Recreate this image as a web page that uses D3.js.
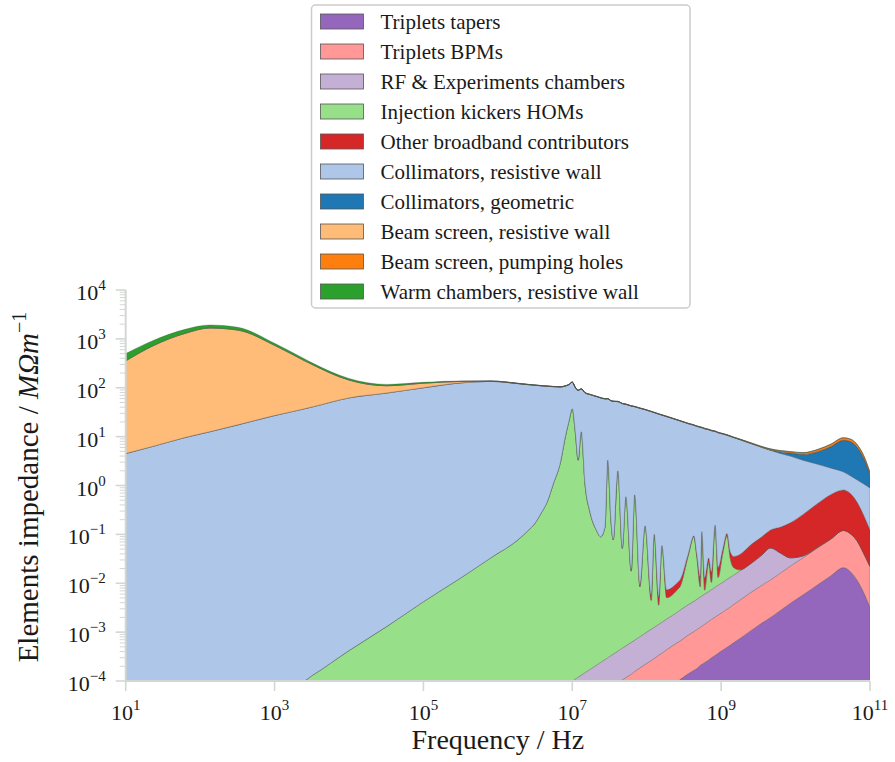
<!DOCTYPE html>
<html>
<head>
<meta charset="utf-8">
<script src="https://cdn.jsdelivr.net/npm/d3@7"></script>
<style>
  body { margin: 0; background: #fff; }
  text { font-family: "Liberation Serif", "DejaVu Serif", serif; fill: #1a1a1a; }
</style>
</head>
<body>
<svg id="chart" width="895" height="762"></svg>
<script>
// frequency grid (Hz), dense around the kicker resonances
const freqs = [
  1e1, 2.3e1, 6.3e1, 1.35e2, 3.2e2, 1e3, 2.4e3, 3.2e3, 1e4, 3.2e4, 1e5, 3.2e5, 8e5,
  2e6, 2.5e6, 3.2e6, 3.8e6, 4.6e6, 5.6e6, 6.9e6, 7.9e6, 9.1e6, 1.0e7, 1.1e7, 1.2e7, 1.32e7, 1.48e7, 1.74e7,
  2.1e7, 2.4e7, 2.75e7, 3.0e7, 3.3e7, 3.55e7, 4.1e7, 4.7e7, 5.25e7, 6.2e7, 6.9e7, 8.1e7, 9.5e7,
  1.15e8, 1.26e8, 1.45e8, 1.6e8, 1.85e8, 2.63e8, 2.8e8, 3.6e8, 4.3e8, 4.7e8, 5.25e8, 5.5e8,
  6.0e8, 6.8e8, 7.4e8, 8.3e8, 9.1e8, 1.05e9, 1.2e9, 1.32e9, 1.48e9, 1.78e9, 2.5e9, 3.55e9,
  4.6e9, 6.3e9, 8.5e9, 1.26e10, 2e10, 2.95e10, 4.4e10, 5.6e10, 6.8e10, 8.3e10, 1e11
];

// impedance of each element, MOhm/m (stack order, bottom first)
const tripletsTapers = [
  0, 0, 0, 0, 0, 0, 0, 0, 0, 0, 0, 0, 0,
  0, 0, 0, 0, 0, 0, 0, 0, 0, 0, 0, 0, 0, 0, 0,
  0, 0, 0, 0, 0, 0, 0, 0, 0, 0, 0, 0, 0,
  0, 0, 0, 0, 0, 1e-4, 1.07e-4, 1.4e-4, 1.66e-4, 1.8e-4, 2.1e-4, 2.2e-4,
  2.4e-4, 2.7e-4, 3.0e-4, 3.35e-4, 3.7e-4, 4.3e-4, 4.9e-4, 5.4e-4, 6.1e-4, 7.4e-4, 1.07e-3, 1.55e-3,
  2.0e-3, 2.8e-3, 3.9e-3, 5.8e-3, 9.4e-3, 0.0141, 0.0209, 0.0166, 0.0112, 0.0063, 0.0032
];
const tripletsBPMs = [
  0, 0, 0, 0, 0, 0, 0, 0, 0, 0, 0, 0, 0,
  0, 0, 0, 0, 0, 0, 0, 0, 0, 0, 0, 0, 0, 0, 0,
  0, 0, 0, 0, 0, 0, 0, 1.05e-4, 1.18e-4, 1.38e-4, 1.57e-4, 1.86e-4, 2.19e-4,
  2.63e-4, 2.88e-4, 3.39e-4, 3.7e-4, 4.37e-4, 5.2e-4, 5.5e-4, 7.3e-4, 8.6e-4, 9.4e-4, 1.05e-3, 1.1e-3,
  1.21e-3, 1.38e-3, 1.52e-3, 1.7e-3, 1.87e-3, 2.14e-3, 2.46e-3, 2.7e-3, 3.1e-3, 3.76e-3, 5.4e-3, 7.6e-3,
  9.7e-3, 0.0135, 0.0185, 0.0275, 0.0443, 0.065, 0.099, 0.083, 0.060, 0.0335, 0.0187
];
const rfChambers = [
  0, 0, 0, 0, 0, 0, 0, 0, 0, 0, 0, 0, 0,
  0, 0, 0, 0, 0, 0, 0, 0, 0, 1e-4, 1.1e-4, 1.2e-4, 1.32e-4, 1.48e-4, 1.74e-4,
  2.1e-4, 2.4e-4, 2.75e-4, 3.0e-4, 3.3e-4, 3.55e-4, 4.1e-4, 3.65e-4, 4.07e-4, 4.8e-4, 5.3e-4, 6.2e-4, 7.3e-4,
  8.9e-4, 9.7e-4, 1.11e-3, 1.23e-3, 1.42e-3, 2.0e-3, 2.16e-3, 2.76e-3, 3.25e-3, 3.56e-3, 3.99e-3, 4.18e-3,
  4.58e-3, 5.11e-3, 5.59e-3, 6.28e-3, 6.88e-3, 7.9e-3, 9.1e-3, 9.96e-3, 0.0111, 0.0133, 0.0187, 0.029,
  0.041, 0.025, 0.0107, 0.003, 0.0015, 0.001, 8e-4, 6e-4, 5e-4, 4e-4, 3e-4
];
const injectionKickers = [
  0, 0, 0, 0, 0, 0, 1e-4, 1.3e-4, 4.2e-4, 1.3e-3, 4.2e-3, 0.013, 0.033,
  0.085, 0.117, 0.174, 0.27, 0.46, 1.12, 2.9, 8.5, 21.9, 37, 12, 3.3, 12.6, 1.12, 0.275,
  0.123, 0.089, 0.141, 3.3, 0.2, 0.077, 2.0, 0.051, 0.59, 0.017, 0.645, 0.0076, 0.148,
  0.0033, 0.098, 0.0021, 0.056, 0.0032, 0.005, 0.0057, 0.032, 0.085, 0.031, 0.0032, 0.104,
  0.0012, 0.02, 0.003, 0.14, 0.004, 0.03, 0.082, 0.02, 0.006, 0.001, 0, 0,
  0, 0, 0, 0, 0, 0, 0, 0, 0, 0, 0
];
const otherBroadband = [
  0, 0, 0, 0, 0, 0, 0, 0, 0, 0, 0, 0, 0,
  0, 3e-5, 5e-5, 6e-5, 7e-5, 8e-5, 1e-4, 1.1e-4, 1.2e-4, 1.3e-4, 1.5e-4, 1.6e-4, 1.8e-4, 2e-4, 2.3e-4,
  2.7e-4, 3e-4, 3.3e-4, 3.6e-4, 3.9e-4, 4.2e-4, 4.8e-4, 5.5e-4, 6.2e-4, 7.2e-4, 8e-4, 9.5e-4, 1.1e-3,
  1.3e-3, 1.45e-3, 1.7e-3, 1.9e-3, 2.3e-3, 3.0e-3, 3.2e-3, 3.8e-3, 4.2e-3, 4.5e-3, 4.9e-3, 5.1e-3,
  5.5e-3, 6.1e-3, 6.6e-3, 7.3e-3, 8e-3, 9.2e-3, 0.0108, 0.012, 0.0145, 0.02, 0.036, 0.052,
  0.07, 0.1, 0.14, 0.22, 0.38, 0.57, 0.69, 0.56, 0.37, 0.2, 0.1
];
const collimatorsRW = [
  4.5, 6.3, 9.6, 12.6, 17.4, 27, 36.5, 40.5, 62, 78, 100, 126, 135,
  120, 116, 112, 109.5, 107, 104, 101, 99, 95, 93, 89, 85, 82, 78, 72,
  66, 62, 59, 56, 54, 52.5, 50, 47.3, 45.2, 42.2, 40.3, 38, 35.5,
  32.4, 30.9, 28.8, 27.5, 25.7, 21.6, 20.9, 18.4, 17, 16.2, 15.5, 15.1,
  14.5, 13.8, 13.2, 12.6, 12, 11.3, 10.6, 10.1, 9.5, 8.66, 7.19, 5.91,
  5.13, 4.38, 3.83, 3.04, 2.29, 1.64, 1.09, 0.89, 0.85, 0.83, 0.77
];
const collimatorsGeom = [
  0, 0, 0, 0, 0, 0, 0, 0, 0, 0, 0, 0, 0,
  0, 0, 0, 0, 0, 0, 0, 0, 0, 0, 0, 0, 0, 0, 0,
  0, 0, 0, 0, 0, 0, 0, 0, 0, 0, 0, 0, 0,
  0, 0, 0, 0, 0, 0, 0, 0, 0, 0, 0, 0,
  0, 0, 0, 0, 0, 0, 0, 0, 0, 0, 0, 0.02,
  0.1, 0.35, 0.6, 1.0, 2.2, 3.9, 6.5, 6.2, 4.6, 2.4, 0.75
];
const beamScreenRW = [
  350, 710, 1290, 1657, 1498, 714, 336, 259, 82, 32, 24, 9, 2,
  1.2, 1.1, 1.0, 0.95, 0.9, 0.85, 0.8, 0.8, 0.8, 0.75, 0.75, 0.75, 0.75, 0.75, 0.7,
  0.65, 0.6, 0.6, 0.55, 0.55, 0.5, 0.5, 0.48, 0.46, 0.44, 0.42, 0.4, 0.38,
  0.36, 0.35, 0.33, 0.32, 0.3, 0.27, 0.26, 0.24, 0.22, 0.21, 0.2, 0.2,
  0.19, 0.18, 0.17, 0.16, 0.15, 0.14, 0.13, 0.12, 0.12, 0.11, 0.1, 0.09,
  0.08, 0.07, 0.06, 0.05, 0.05, 0.05, 0.05, 0.05, 0.05, 0.05, 0.05
];
const pumpingHoles = [
  0.001, 0.001, 0.002, 0.002, 0.003, 0.004, 0.005, 0.005, 0.007, 0.008, 0.01, 0.012, 0.014,
  0.016, 0.0165, 0.017, 0.0175, 0.018, 0.018, 0.019, 0.019, 0.02, 0.02, 0.02, 0.02, 0.02, 0.021, 0.021,
  0.022, 0.022, 0.023, 0.023, 0.023, 0.023, 0.024, 0.024, 0.025, 0.025, 0.026, 0.026, 0.027,
  0.028, 0.029, 0.03, 0.03, 0.032, 0.036, 0.037, 0.04, 0.043, 0.045, 0.047, 0.048,
  0.05, 0.052, 0.054, 0.056, 0.058, 0.06, 0.063, 0.065, 0.068, 0.075, 0.1, 0.12,
  0.15, 0.2, 0.25, 0.33, 0.5, 0.7, 1.0, 0.95, 0.75, 0.45, 0.15
];
const warmChambers = [
  145, 200, 270, 250, 210, 72, 35, 24, 11, 7, 5, 3, 1,
  0.8, 0.7, 0.6, 0.55, 0.5, 0.5, 0.45, 0.45, 0.45, 0.4, 0.4, 0.4, 0.4, 0.38, 0.36,
  0.34, 0.32, 0.3, 0.3, 0.29, 0.28, 0.27, 0.26, 0.25, 0.24, 0.23, 0.22, 0.21,
  0.2, 0.2, 0.19, 0.19, 0.18, 0.16, 0.16, 0.15, 0.14, 0.14, 0.13, 0.13,
  0.13, 0.12, 0.12, 0.11, 0.11, 0.1, 0.1, 0.09, 0.09, 0.08, 0.07, 0.06,
  0.05, 0.05, 0.04, 0.04, 0.03, 0.03, 0.03, 0.03, 0.02, 0.02, 0.02
];

const labels = [
  "Triplets tapers", "Triplets BPMs", "RF & Experiments chambers", "Injection kickers HOMs",
  "Other broadband contributors", "Collimators, resistive wall", "Collimators, geometric",
  "Beam screen, resistive wall", "Beam screen, pumping holes", "Warm chambers, resistive wall"
];
const colors = ["#9467bd", "#ff9896", "#c5b0d5", "#98df8a", "#d62728",
                "#aec7e8", "#1f77b4", "#ffbb78", "#ff7f0e", "#2ca02c"];
const seriesData = [tripletsTapers, tripletsBPMs, rfChambers, injectionKickers, otherBroadband,
                    collimatorsRW, collimatorsGeom, beamScreenRW, pumpingHoles, warmChambers];

const xTickExp = [1, 3, 5, 7, 9, 11];
const yTickExp = [-4, -3, -2, -1, 0, 1, 2, 3, 4];

const margin = { top: 290, right: 25, bottom: 81, left: 125.7 },
      width = 870 - margin.left,
      height = 681 - margin.top;

const svg = d3.select("#chart");
const g = svg.append("g").attr("transform", `translate(${margin.left},${margin.top})`);

const x = d3.scaleLog().domain([1e1, 1e11]).range([0, width]);
const y = d3.scaleLog().domain([1e-4, 1e4]).range([height, 0]).clamp(true);

// table for the stack
const keys = labels.map((d, i) => "s" + i);
const table = freqs.map((f, i) => {
  const row = { f: f };
  seriesData.forEach((s, k) => { row[keys[k]] = s[i]; });
  return row;
});
const stacked = d3.stack().keys(keys)(table);

g.append("clipPath").attr("id", "plotclip")
  .append("rect").attr("width", width).attr("height", height);

const area = d3.area()
  .x(d => x(d.data.f))
  .y0(d => y(Math.max(d[0], 1e-6)))
  .y1(d => y(Math.max(d[1], 1e-6)))
  .curve(d3.curveMonotoneX);

g.append("g").attr("clip-path", "url(#plotclip)")
  .selectAll("path")
  .data(stacked)
  .enter().append("path")
  .attr("d", area)
  .attr("fill", (d, i) => colors[i])
  .attr("stroke", "#4a4a4a")
  .attr("stroke-opacity", 0.55)
  .attr("stroke-width", 0.6);

// axes
const gridCol = "#d3d7d3";
g.append("line").attr("x1", 0).attr("x2", 0).attr("y1", 0).attr("y2", height)
  .attr("stroke", gridCol).attr("stroke-width", 2);
g.append("line").attr("x1", 0).attr("x2", width).attr("y1", height).attr("y2", height)
  .attr("stroke", gridCol).attr("stroke-width", 2);

// y ticks, major + minor
yTickExp.forEach(e => {
  const yy = y(Math.pow(10, e));
  g.append("line").attr("x1", -10).attr("x2", 0).attr("y1", yy).attr("y2", yy)
    .attr("stroke", gridCol).attr("stroke-width", 1.6);
  const t = g.append("text").attr("x", -20).attr("y", yy + 10).attr("text-anchor", "end")
    .style("font-size", "22px");
  t.append("tspan").text("10");
  t.append("tspan").attr("dy", -10).style("font-size", "15px")
    .text(e < 0 ? "\u2212" + (-e) : String(e));
  if (e < 4) {
    for (let k = 2; k <= 9; k++) {
      const ym = y(k * Math.pow(10, e));
      g.append("line").attr("x1", -6).attr("x2", 0).attr("y1", ym).attr("y2", ym)
        .attr("stroke", gridCol).attr("stroke-width", 1);
    }
  }
});

// x ticks
xTickExp.forEach(e => {
  const xx = x(Math.pow(10, e));
  g.append("line").attr("x1", xx).attr("x2", xx).attr("y1", height).attr("y2", height + 10)
    .attr("stroke", gridCol).attr("stroke-width", 1.6);
  const t = g.append("text").attr("x", xx).attr("y", height + 39).attr("text-anchor", "middle")
    .style("font-size", "22px");
  t.append("tspan").text("10");
  t.append("tspan").attr("dy", -10).style("font-size", "15px").text(String(e));
});

// axis titles
svg.append("text")
  .attr("x", margin.left + width / 2).attr("y", 749)
  .attr("text-anchor", "middle")
  .style("font-size", "28px")
  .text("Frequency / Hz");

const yl = svg.append("text")
  .attr("transform", "translate(38,487) rotate(-90)")
  .attr("text-anchor", "middle")
  .style("font-size", "29px");
yl.append("tspan").text("Elements impedance / ");
yl.append("tspan").style("font-style", "italic").text("M\u03A9m");
yl.append("tspan").attr("dy", -12).style("font-size", "20px").text("\u22121");

// legend
const lg = svg.append("g").attr("transform", "translate(311.5,5)");
lg.append("rect").attr("width", 378.5).attr("height", 303).attr("rx", 4)
  .attr("fill", "#fff").attr("fill-opacity", 0.85)
  .attr("stroke", "#cccccc").attr("stroke-width", 1.5);
labels.forEach((name, i) => {
  const row = lg.append("g").attr("transform", `translate(0,${9 + i * 30})`);
  row.append("rect").attr("x", 9).attr("y", 0).attr("width", 43).attr("height", 15)
    .attr("fill", colors[i]).attr("stroke", "#555").attr("stroke-width", 0.8);
  row.append("text").attr("x", 69).attr("y", 15).style("font-size", "21px").text(name);
});
</script>
</body>
</html>
